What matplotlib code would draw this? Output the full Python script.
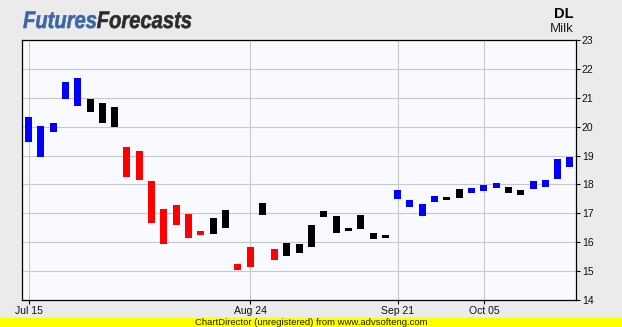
import matplotlib.pyplot as plt
import numpy as np
from matplotlib.textpath import TextPath
from matplotlib.patches import PathPatch
from matplotlib.font_manager import FontProperties
from matplotlib.transforms import Affine2D, IdentityTransform

plt.rcParams['font.family'] = ['Liberation Sans', 'DejaVu Sans']

# candle bodies, one per trading session
upper = [20.34, 20.02, 20.13, 21.55, 21.68, 20.96, 20.82, 20.68, 19.30, 19.16,
         18.12, 17.15, 17.29, 16.98, 16.40, 16.84, 17.12, 15.25, 15.83, 17.36,
         15.77, 15.97, 15.94, 16.60, 17.08, 16.91, 16.49, 16.94, 16.32, 16.25,
         17.81, 17.46, 17.32, 17.60, 17.57, 17.84, 17.88, 17.98, 18.05, 17.91,
         17.81, 18.12, 18.15, 18.88, 18.95]
lower = [19.48, 18.96, 19.83, 20.97, 20.73, 20.52, 20.14, 20.00, 18.27, 18.16,
         16.68, 15.94, 16.60, 16.15, 16.25, 16.28, 16.49, 15.04, 15.14, 16.94,
         15.39, 15.52, 15.63, 15.85, 16.87, 16.32, 16.39, 16.46, 16.11, 16.15,
         17.51, 17.22, 16.91, 17.39, 17.46, 17.53, 17.71, 17.77, 17.88, 17.71,
         17.64, 17.84, 17.91, 18.19, 18.61]
# b = blue, r = red, k = black
signal = 'bbbbbkkkrrrrrrrkkrrkrkkkkkkkkkbbbbkkbbbkkbbbb'

date_idx = [0, 18, 30, 37]
date_lbl = ['Jul 15', 'Aug 24', 'Sep 21', 'Oct 05']

cmap = {'b': '#0000ff', 'r': '#ff0000', 'k': '#000000'}

W, H = 622, 327
fig = plt.figure(figsize=(W / 100, H / 100), dpi=100)
fig.patch.set_facecolor('#ebebeb')

ax = fig.add_axes([22 / W, 27 / H, 553.5 / W, 260 / H])
ax.set_facecolor('#f8faff')

x = np.arange(len(upper))
hi = np.array(upper)
lo = np.array(lower)
ax.bar(x, hi - lo, bottom=lo, width=0.57, color=[cmap[c] for c in signal],
       linewidth=0, zorder=3)

ax.set_xlim(-0.53, len(upper) - 1 + 0.45)
ax.set_ylim(14, 23)
ax.set_yticks(range(14, 24))
ax.yaxis.tick_right()
ax.set_xticks(date_idx)
ax.set_xticklabels(date_lbl)
ax.tick_params(axis='both', labelsize=7.5, length=3, width=0.8, pad=1.5,
               color='black', labelcolor='#111111')
ax.grid(True, color='#c8c8c8', linewidth=0.8, zorder=0)
for s in ax.spines.values():
    s.set_color('black')
    s.set_linewidth(0.9)

# logo, squeezed horizontally like the original artwork (pixel coords)
fp = FontProperties(family='Liberation Sans', weight='bold', style='italic')
p1 = TextPath((0, 0), 'Futures', size=24, prop=fp)
p2 = TextPath((0, 0), 'Forecasts', size=24, prop=fp)
sx = 0.84
w1 = p1.get_extents().x1 * sx
base_y = H - 28
fig.patches.append(PathPatch(p1, color='#3a66a6', lw=0.4,
                             transform=Affine2D().scale(sx, 1).translate(23, base_y)))
fig.patches.append(PathPatch(p2, color='#2b2b2b', lw=0.4,
                             transform=Affine2D().scale(sx, 1).translate(23 + w1 + 0.5, base_y)))

fig.text(574 / W, 1 - 14 / H, 'DL', ha='right', va='center', fontsize=10.5,
         fontweight='bold', color='black')
fig.text(574 / W, 1 - 29 / H, 'Milk', ha='right', va='center', fontsize=9.5,
         color='#222222')

# footer strip
fig.patches.append(plt.Rectangle((0, 0), 1, 9 / H, transform=fig.transFigure,
                                 color='#ffff00', zorder=0))
fig.text(0.5, 4.5 / H, 'ChartDirector (unregistered) from www.advsofteng.com',
         ha='center', va='center', fontsize=6.8, color='#222200')

fig.savefig('out.png', dpi=100, facecolor=fig.get_facecolor())
